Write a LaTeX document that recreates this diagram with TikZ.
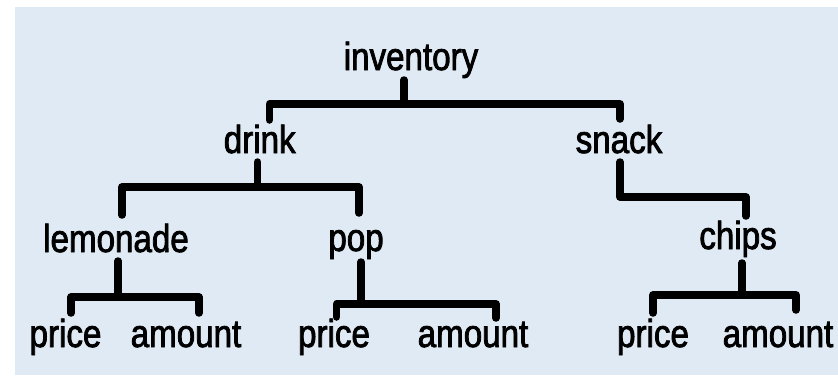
\documentclass[tikz,border=0pt]{standalone}
\usepackage{fontspec}
\setmainfont{Liberation Sans}[FakeStretch=0.85,FakeBold=2]
\usetikzlibrary{calc}
\definecolor{bgblue}{RGB}{223,234,244}
\tikzset{
  lbl/.style={anchor=base, inner sep=0pt, font=\fontsize{39bp}{41bp}\selectfont, text=black},
  conn/.style={draw=black, line width=7.5bp, line cap=round, line join=round}
}
\begin{document}
\begin{tikzpicture}[x=1bp, y=-1bp]
\useasboundingbox (0,0) rectangle (838,377);
\fill[white] (0,0) rectangle (838,377);
\fill[bgblue] (15,7) rectangle (838,375);
% nodes
\node[lbl] (inv)   at (411,70)  {inventory};
\node[lbl] (drink) at (259.7,153) {drink};
\node[lbl] (snack) at (619,153) {snack};
\node[lbl] (lemon) at (116,252) {lemonade};
\node[lbl] (pop)   at (356,251) {pop};
\node[lbl] (chips) at (738,249) {chips};
\node[lbl] (p1) at (65.5,347) {price};
\node[lbl] (a1) at (186,347) {amount};
\node[lbl] (p2) at (334,347) {price};
\node[lbl] (a2) at (473,347) {amount};
\node[lbl] (p3) at (653,347) {price};
\node[lbl] (a3) at (778,347) {amount};
% connectors
\draw[conn] ($(inv.base)+(-7,10)$) -- ++(0,24) -| ($(drink.base)+(9.8,-33)$);
\draw[conn] ($(inv.base)+(-7,34)$) -| ($(snack.base)+(1,-34)$);
\draw[conn] ($(drink.base)+(-2.2,9)$) -- ++(0,25) -| ($(lemon.base)+(6,-37)$);
\draw[conn] ($(drink.base)+(-2.2,34)$) -| ($(pop.base)+(3,-38)$);
\draw[conn] ($(snack.base)+(1,9)$) -- ++(0,35) -| ($(chips.base)+(8,-33)$);
\draw[conn] ($(lemon.base)+(2,9)$) -- ++(0,36) -| ($(p1.base)+(5.5,-34)$);
\draw[conn] ($(lemon.base)+(2,45)$) -| ($(a1.base)+(13,-34)$);
\draw[conn] ($(pop.base)+(5,11)$) -- ++(0,42) -| ($(p2.base)+(2.7,-30)$);
\draw[conn] ($(pop.base)+(5,53)$) -| ($(a2.base)+(23,-29)$);
\draw[conn] ($(chips.base)+(4,14)$) -- ++(0,32) -| ($(p3.base)+(0,-34)$);
\draw[conn] ($(chips.base)+(4,46)$) -| ($(a3.base)+(18,-37)$);
\end{tikzpicture}
\end{document}
